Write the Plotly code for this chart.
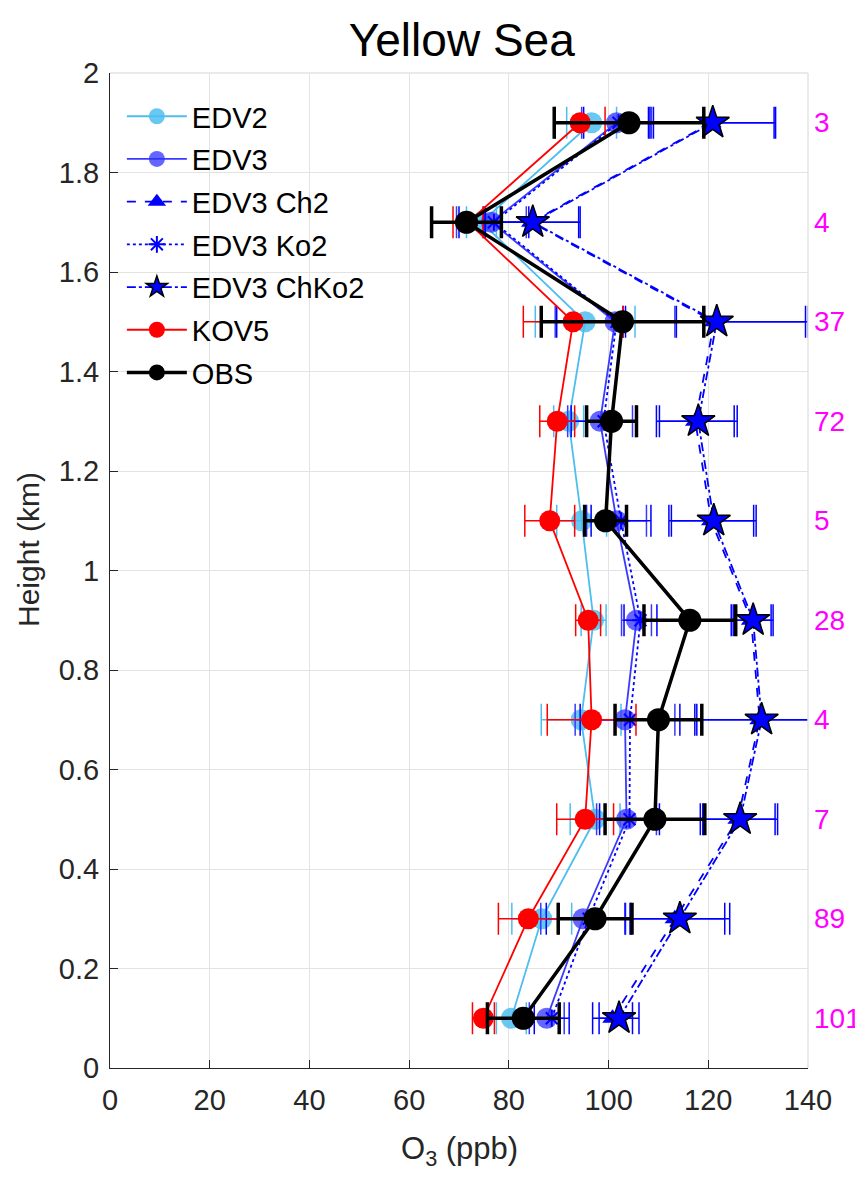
import plotly.graph_objects as go

heights = [0.1, 0.3, 0.5, 0.7, 0.9, 1.1, 1.3, 1.5, 1.7, 1.9]
counts = ["101", "89", "7", "4", "28", "5", "72", "37", "4", "3"]

edv2 = [80.5, 86.6, 97.3, 94.5, 97.0, 94.6, 92.0, 95.3, 74.5, 96.6]
edv2_err = [3.0, 6.0, 5.0, 8.0, 2.5, 5.0, 3.0, 10.0, 3.0, 5.0]
edv3 = [87.6, 94.9, 103.6, 103.3, 105.6, 101.6, 98.3, 101.3, 76.5, 101.6]
edv3_err = [3.5, 8.5, 6.0, 10.0, 3.0, 6.0, 6.5, 12.0, 7.0, 7.0]
ch2 = [100.8, 113.3, 125.9, 130.3, 128.6, 120.6, 117.4, 121.2, 84.5, 120.6]
ch2_err = [4.0, 10.0, 7.5, 13.0, 4.0, 8.5, 7.8, 18.3, 9.5, 12.6]
ko2 = [88.6, 96.0, 104.2, 104.3, 106.4, 102.5, 99.0, 101.6, 77.0, 102.0]
ko2_err = [3.5, 8.5, 6.0, 10.0, 3.3, 6.0, 6.5, 12.0, 7.0, 7.0]
chko2 = [102.1, 114.3, 126.4, 130.7, 129.0, 121.1, 118.0, 121.7, 84.8, 120.9]
chko2_err = [4.0, 10.0, 7.5, 13.0, 4.0, 8.5, 7.8, 18.3, 9.5, 12.6]
kov5 = [74.9, 83.9, 95.3, 96.6, 95.9, 88.2, 89.7, 92.9, 71.8, 94.3]
kov5_err = [2.2, 6.0, 5.7, 8.9, 2.5, 5.0, 3.5, 10.0, 3.0, 5.0]
obs = [82.9, 97.3, 109.3, 110.0, 116.3, 99.4, 100.6, 102.8, 71.5, 104.1]
obs_err = [7.2, 7.4, 10.0, 8.7, 9.2, 4.2, 5.0, 16.3, 7.0, 15.0]

FONT = "Liberation Sans, Arial, sans-serif"

series = [
    ("EDV2", edv2, edv2_err, "#4DBEEE", "rgba(77,190,238,0.85)", "circle", 21, "solid", 1.8, 1.5),
    ("EDV3", edv3, edv3_err, "#3A3AFF", "rgba(50,50,255,0.75)", "circle", 21, "solid", 1.8, 1.5),
    ("EDV3 Ch2", ch2, ch2_err, "#0000FF", "#0000FF", "triangle-up", 18, "dash", 1.8, 1.5),
    ("EDV3 Ko2", ko2, ko2_err, "#0000FF", "#0000FF", "asterisk-open", 14, "dot", 1.8, 1.5),
    ("EDV3 ChKo2", chko2, chko2_err, "#0000FF", "#0000FF", "star", 25, "dashdot", 1.8, 1.5),
    ("KOV5", kov5, kov5_err, "#FF0000", "#FF0000", "circle", 21, "solid", 1.8, 1.5),
    ("OBS", obs, obs_err, "#000000", "#000000", "circle", 23, "solid", 3.5, 3.5),
]

fig = go.Figure()
for i, (name, vals, err, col, mcol, sym, msize, dash, lw, ew) in enumerate(series):
    marker = dict(symbol=sym, size=msize, color=mcol)
    if sym == "star":
        marker["line"] = dict(color="black", width=1.5)
    elif sym == "asterisk-open":
        marker["line"] = dict(color=col, width=2)
    else:
        marker["line"] = dict(width=0)
    fig.add_trace(go.Scatter(
        x=vals, y=heights, name=name, mode="lines+markers",
        line=dict(color=col, width=lw, dash=dash),
        marker=marker,
        error_x=dict(type="data", array=err, visible=True, color=col,
                     thickness=ew, width=16),
        legendgroup=name,
    ))

annotations = []
for h, c in zip(heights, counts):
    annotations.append(dict(x=1.0, xref="paper", y=h, yref="y", text=c,
                            xanchor="left", yanchor="middle", xshift=4,
                            showarrow=False,
                            font=dict(color="#FF00FF", size=28, family=FONT)))

# axis titles placed as annotations for exact positioning
annotations.append(dict(x=-0.1175, xref="paper", y=0.5216, yref="paper",
                        text="Height (km)", textangle=-90, showarrow=False,
                        xanchor="center", yanchor="middle",
                        font=dict(size=30, family=FONT, color="#262626")))
annotations.append(dict(x=0.5, xref="paper", y=-0.083, yref="paper",
                        text="O<sub>3</sub> (ppb)", showarrow=False,
                        xanchor="center", yanchor="middle",
                        font=dict(size=31, family=FONT, color="#262626")))

fig.update_layout(
    width=855, height=1170,
    margin=dict(l=102, r=55, t=65, b=110),
    paper_bgcolor="white", plot_bgcolor="white",
    title=dict(text="Yellow Sea", xref="paper", x=0.504, xanchor="center",
               y=0.973, yanchor="middle",
               font=dict(size=46, family=FONT, color="black")),
    font=dict(family=FONT, color="#262626"),
    showlegend=True,
    legend=dict(x=0.017, y=0.982, xanchor="left", yanchor="top",
                bgcolor="rgba(0,0,0,0)", font=dict(size=29, family=FONT, color="black"),
                traceorder="grouped", tracegroupgap=2, itemwidth=60),
    annotations=annotations,
    xaxis=dict(range=[0, 140], dtick=20, tick0=0, showgrid=True, gridcolor="#E3E3E3",
               gridwidth=1, zeroline=False, showline=True, linecolor="#262626",
               linewidth=1.2, ticks="inside", ticklen=8, tickcolor="#262626",
               tickfont=dict(size=29, family=FONT, color="#262626"),
               ticklabelstandoff=6, fixedrange=True),
    yaxis=dict(range=[0, 2], dtick=0.2, tick0=0, showgrid=True, gridcolor="#E3E3E3",
               gridwidth=1, zeroline=False, showline=True, linecolor="#262626",
               linewidth=1.2, ticks="inside", ticklen=8, tickcolor="#262626",
               tickfont=dict(size=29, family=FONT, color="#262626"),
               ticklabelstandoff=4, fixedrange=True),
    shapes=[
        dict(type="line", xref="paper", yref="paper", x0=0, x1=1, y0=1, y1=1,
             line=dict(color="#E3E3E3", width=1.5)),
        dict(type="line", xref="paper", yref="paper", x0=1, x1=1, y0=0, y1=1,
             line=dict(color="#E3E3E3", width=1.5)),
    ],
)

fig.write_html("out.html")
